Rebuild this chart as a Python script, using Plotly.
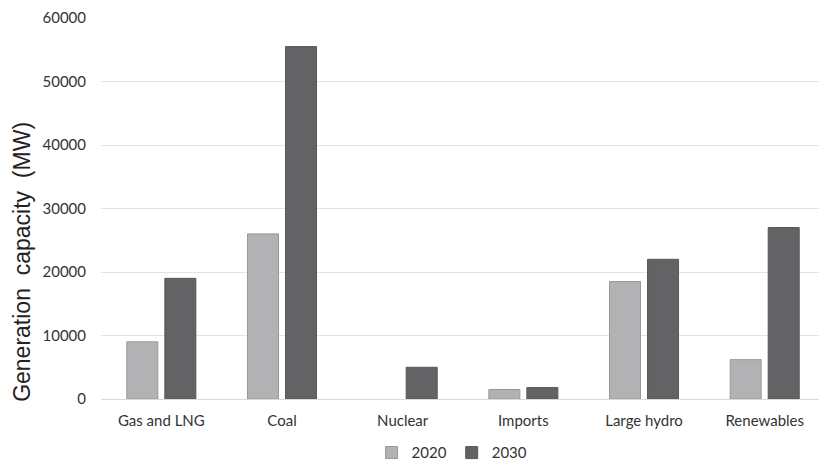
import plotly.graph_objects as go

categories = ["Gas and LNG", "Coal", "Nuclear", "Imports", "Large hydro", "Renewables"]
values_2020 = [9000, 26000, 0, 1500, 18500, 6200]
values_2030 = [19000, 55500, 5000, 1800, 22000, 27000]
y_ticks = [0, 10000, 20000, 30000, 40000, 50000, 60000]

fig = go.Figure()
fig.add_trace(go.Bar(name="2020", x=categories, y=values_2020,
                     marker=dict(color="#b2b2b5",
                                 line=dict(color="#98989b", width=[1 if v > 0 else 0 for v in values_2020]))))
fig.add_trace(go.Bar(name="2030", x=categories, y=values_2030,
                     marker=dict(color="#636365",
                                 line=dict(color="#58585a", width=[1 if v > 0 else 0 for v in values_2030]))))

fig.add_annotation(text="Generation\u00a0\u00a0capacity\u00a0\u00a0(MW)", textangle=-90, showarrow=False,
                   xref="paper", yref="paper", x=-0.11, y=0.36, xanchor="center", yanchor="middle",
                   font=dict(size=23, color="#222222", family="Liberation Sans, Arial, sans-serif"))

fig.update_layout(
    width=819, height=463,
    margin=dict(l=101, r=0, t=18, b=64, autoexpand=False),
    plot_bgcolor="white", paper_bgcolor="white",
    barmode="group", bargap=0.37, bargroupgap=0.184,
    font=dict(family="Lato, Open Sans, sans-serif", size=14, color="#333333"),
    legend=dict(orientation="h", x=0.489, xanchor="center", yref="container", y=0.022, yanchor="middle",
                font=dict(size=15, color="#333333"), tracegroupgap=0),
    xaxis=dict(range=[-0.5, 5.45], showgrid=False, showline=True, linecolor="#d9d9d9",
               ticks="", tickfont=dict(size=15), ticklabelstandoff=8),
    yaxis=dict(range=[0, 60000], tickvals=y_ticks, ticktext=[str(v) for v in y_ticks],
               showgrid=True, gridcolor="#e3e3e3", gridwidth=1, zeroline=False,
               ticks="", tickfont=dict(size=15), ticklabelstandoff=14),
)

fig.write_html("out.html")
